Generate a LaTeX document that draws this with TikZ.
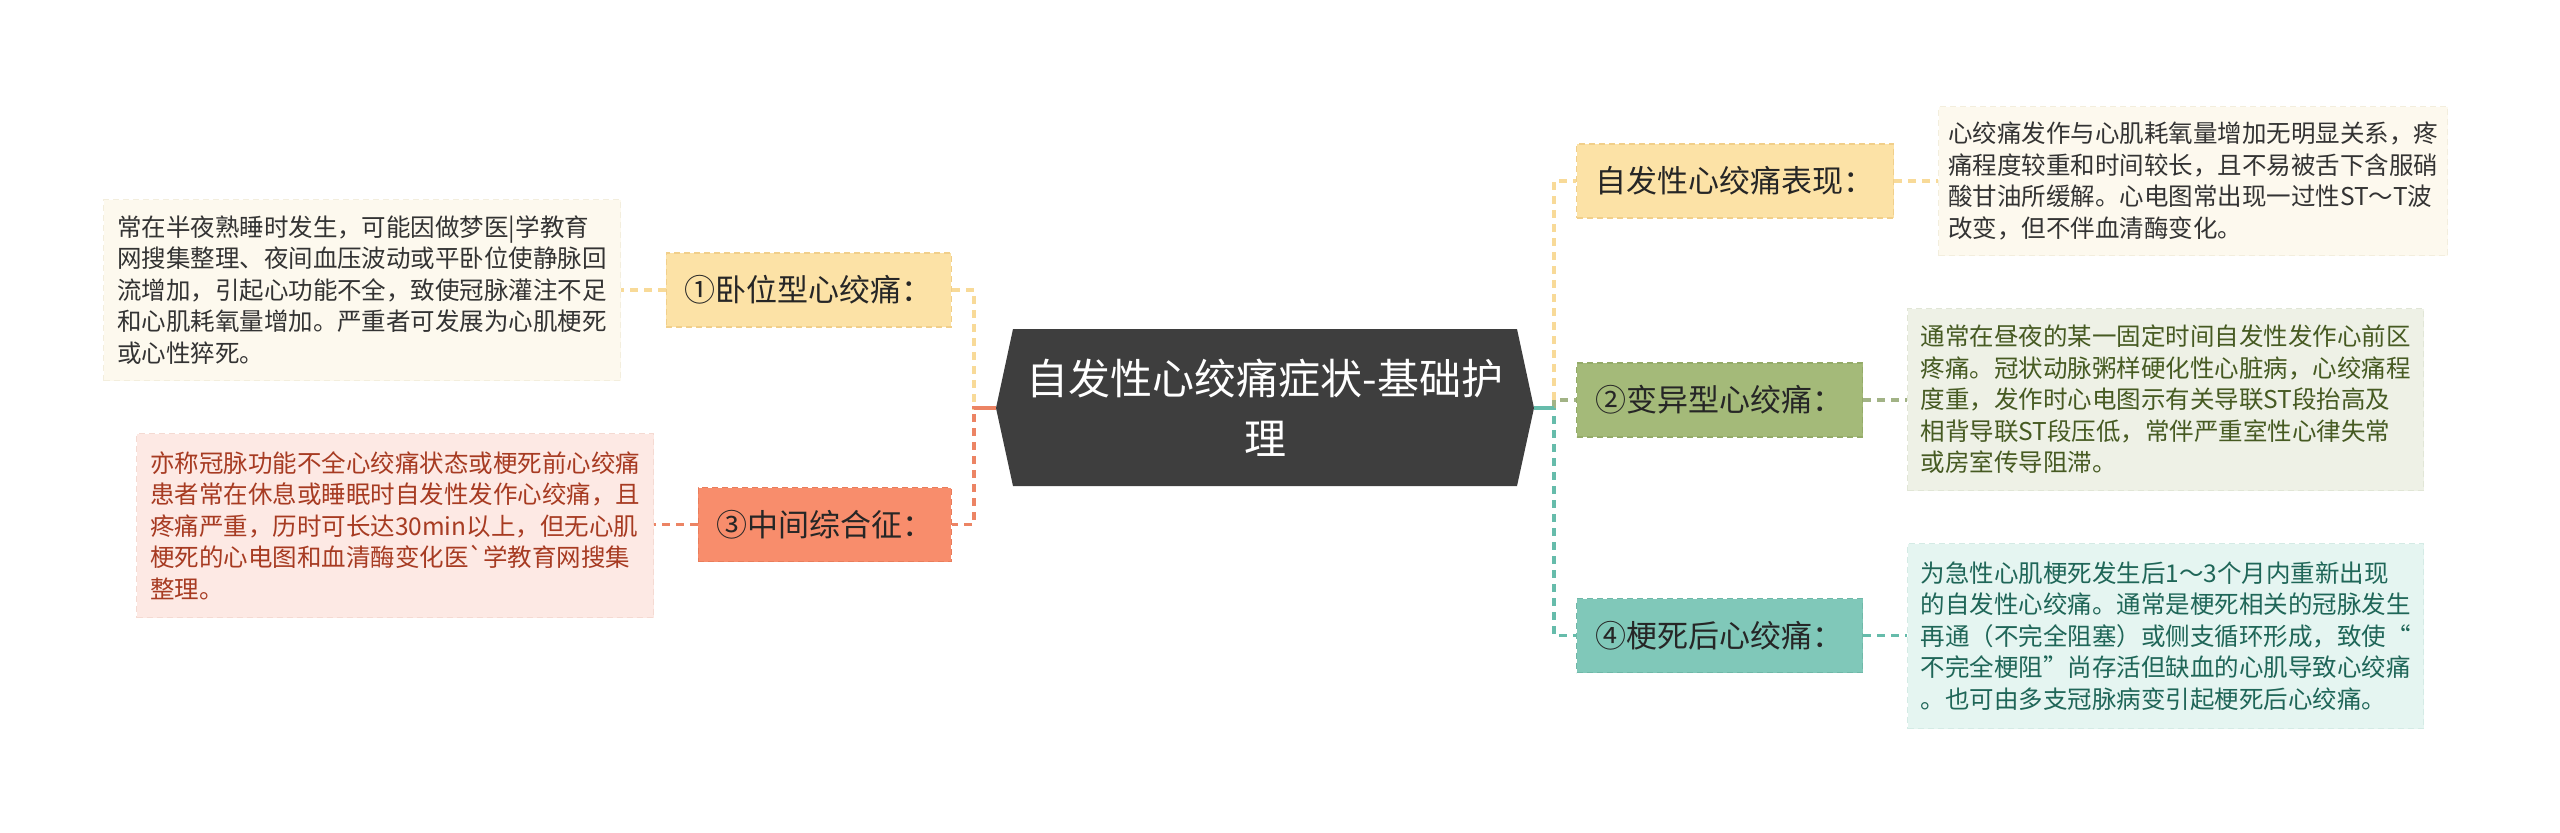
\documentclass[tikz,border=0pt]{standalone}
\usepackage{fontspec}
\setmainfont{Noto Sans CJK SC}[Ligatures=TeXOff]
\definecolor{hexc}{HTML}{3E3E3E}
\definecolor{yelF}{HTML}{FCE2A6}
\definecolor{yelD}{HTML}{F1CF8A}
\definecolor{yelL}{HTML}{F8DA98}
\definecolor{salF}{HTML}{F88D6C}
\definecolor{salD}{HTML}{E97D5C}
\definecolor{salL}{HTML}{EC8464}
\definecolor{oliF}{HTML}{A4BA79}
\definecolor{oliD}{HTML}{94AB68}
\definecolor{oliL}{HTML}{A2B386}
\definecolor{teaF}{HTML}{80C8B9}
\definecolor{teaD}{HTML}{6FB8A8}
\definecolor{teaL}{HTML}{66BCAB}
\definecolor{creamT}{HTML}{FDF9EE}
\definecolor{creamD}{HTML}{F3EEDD}
\definecolor{pinkT}{HTML}{FDE9E4}
\definecolor{pinkD}{HTML}{F5DAD2}
\definecolor{oliT}{HTML}{EEF1E6}
\definecolor{oliTD}{HTML}{E1E6D6}
\definecolor{teaT}{HTML}{E5F5F1}
\definecolor{teaTD}{HTML}{D4EBE5}
\definecolor{darkT}{HTML}{333333}
\definecolor{redT}{HTML}{A73B22}
\definecolor{oliTx}{HTML}{465A22}
\definecolor{teaTx}{HTML}{1F6658}
\begin{document}
\begin{tikzpicture}[x=0.5pt,y=-0.5pt,
  branch/.style={draw=#1, dash pattern=on 3pt off 2pt, line width=0.6pt, inner sep=0pt,
    minimum height=37pt, font=\fontsize{15.5}{18}\selectfont, text=black!85},
  tbox/.style={anchor=north west, inner ysep=0pt, text width=245pt, align=left,
    font=\fontsize{12.25}{15.75}\selectfont, dash pattern=on 3pt off 2pt, line width=0.5pt},
  conn/.style={line width=1.6pt, dash pattern=on 4pt off 3pt},
  stub/.style={line width=1.6pt}]
\useasboundingbox (0,0) rectangle (2560,832);

% central topic
\fill[hexc] (1013,329) -- (1517,329) -- (1534,408) -- (1517,486) -- (1013,486) -- (996,408) -- cycle;
\node[text=white, align=center, font=\fontsize{21}{30}\selectfont, minimum width=269pt,
  minimum height=78.5pt, inner sep=0pt] (root) at (1265,408) {自发性心绞痛症状-基础护\\理};

\coordinate (lj) at (974,408);
\coordinate (rj) at (1554,408);

% branch nodes
\node[branch=yelD, fill=yelF, minimum width=142.5pt, anchor=east] (b1) at (952,290) {①卧位型心绞痛：};
\node[branch=salD, fill=salF, minimum width=126.5pt, anchor=east] (b3) at (952,524.5) {③中间综合征：};
\node[branch=yelD, fill=yelF, minimum width=158.5pt, anchor=west] (b0) at (1576,181) {自发性心绞痛表现：};
\node[branch=oliD, fill=oliF, minimum width=143pt, anchor=west] (b2) at (1576,400) {②变异型心绞痛：};
\node[branch=teaD, fill=teaF, minimum width=143pt, anchor=west] (b4) at (1576,635.5) {④梗死后心绞痛：};

% text boxes
\node[tbox, fill=creamT, draw=creamD, inner xsep=6.75pt, minimum height=90.5pt, text=darkT] (t1) at (103,199)
  {常在半夜熟睡时发生，可能因做梦医|学教育\\网搜集整理、夜间血压波动或平卧位使静脉回\\流增加，引起心功能不全，致使冠脉灌注不足\\和心肌耗氧量增加。严重者可发展为心肌梗死\\或心性猝死。};
\node[tbox, fill=pinkT, draw=pinkD, inner xsep=6.75pt, minimum height=92pt, text=redT] (t3) at (136,433)
  {亦称冠脉功能不全心绞痛状态或梗死前心绞痛\\患者常在休息或睡眠时自发性发作心绞痛，且\\疼痛严重，历时可长达30min以上，但无心肌\\梗死的心电图和血清酶变化医`学教育网搜集\\整理。};
\node[tbox, fill=creamT, draw=creamD, inner xsep=4.75pt, minimum height=74.5pt, text=darkT] (t0) at (1938,106)
  {心绞痛发作与心肌耗氧量增加无明显关系，疼\\痛程度较重和时间较长，且不易被舌下含服硝\\酸甘油所缓解。心电图常出现一过性ST～T波\\改变，但不伴血清酶变化。};
\node[tbox, fill=oliT, draw=oliTD, inner xsep=6.5pt, minimum height=91pt, text=oliTx] (t2) at (1907,308)
  {通常在昼夜的某一固定时间自发性发作心前区\\疼痛。冠状动脉粥样硬化性心脏病，心绞痛程\\度重，发作时心电图示有关导联ST段抬高及\\相背导联ST段压低，常伴严重室性心律失常\\或房室传导阻滞。};
\node[tbox, fill=teaT, draw=teaTD, inner xsep=6.5pt, minimum height=92.5pt, text=teaTx] (t4) at (1907,543)
  {为急性心肌梗死发生后1～3个月内重新出现\\的自发性心绞痛。通常是梗死相关的冠脉发生\\再通（不完全阻塞）或侧支循环形成，致使“\\不完全梗阻”尚存活但缺血的心肌导致心绞痛\\。也可由多支冠脉病变引起梗死后心绞痛。};

% connectors, left side
\draw[conn, yelL] (root.west) -- (lj) |- (b1.east);
\draw[conn, salL] (root.west) -- (lj) |- (b3.east);
\draw[stub, salL] (root.west) -- (lj);
\draw[conn, yelL] (b1.west) -- (b1.west -| t1.east);
\draw[conn, salL] (b3.west) -- (b3.west -| t3.east);

% connectors, right side
\draw[conn, yelL] (root.east) -- (rj) |- (b0.west);
\draw[conn, teaL] (root.east) -- (rj) |- (b4.west);
\draw[conn, oliL] (rj) |- (b2.west);
\draw[stub, teaL] (root.east) -- (rj);
\draw[conn, yelL] (b0.east) -- (b0.east -| t0.west);
\draw[conn, oliL] (b2.east) -- (b2.east -| t2.west);
\draw[conn, teaL] (b4.east) -- (b4.east -| t4.west);
\end{tikzpicture}
\end{document}
